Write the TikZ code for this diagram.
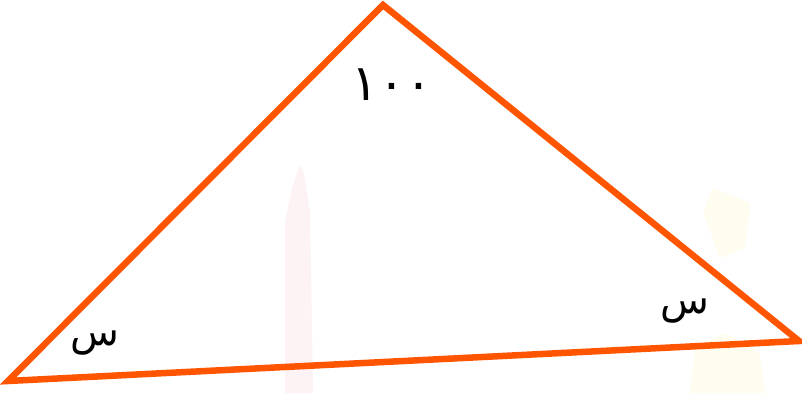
\documentclass[tikz,border=0pt]{standalone}
\usepackage{fontspec}
\newfontfamily\arabicfont[Script=Arabic]{DejaVu Sans}
\definecolor{tri}{HTML}{FF5500}
\definecolor{wpink}{HTML}{FDF2F4}
\definecolor{wyellow}{HTML}{FFFCF0}
\tikzset{side/.style={draw=tri,line width=6.5pt,line join=miter},
  lbl/.style={font=\arabicfont\fontsize{40}{44}\selectfont,inner sep=0pt},
  num/.style={font=\arabicfont\fontsize{50}{54}\selectfont,inner sep=0pt}}
\begin{document}
\begin{tikzpicture}[x=1pt,y=1pt]
\useasboundingbox[fill=white] (0,0) rectangle (802,393);
% faint watermarks
\fill[wpink] (285,0) -- (285,170) -- (292,205) -- (300,228) -- (304,220) -- (310,180) -- (313,0) -- cycle;
\fill[wyellow] (703,180) -- (712,205) -- (750,190) -- (745,145) -- (720,135) -- cycle;
\fill[wyellow] (690,0) -- (695,45) -- (725,60) -- (760,40) -- (765,0) -- cycle;
\coordinate (A) at (383,388);
\coordinate (B) at (8,12);
\coordinate (C) at (799,52);
\draw[side] (A) -- (B) -- (C) -- cycle;
\node[num] (t) at (392,308) {١٠٠};
\node[lbl] (l) at (95,50) {س};
\node[lbl] (r) at (685,82) {س};
\end{tikzpicture}
\end{document}
